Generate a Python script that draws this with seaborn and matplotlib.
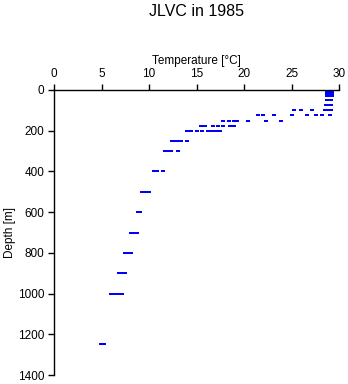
import numpy as np
import pandas as pd
import matplotlib
matplotlib.use("Agg")
import matplotlib.pyplot as plt
import seaborn as sns

depths = (
    [0] * 4 + [10] * 4 + [20] * 4 + [30] * 4
    + [50] * 4 + [75] * 4
    + [100] * 6
    + [125] * 8
    + [150] * 7
    + [175] * 7
    + [200] * 8
    + [250] * 5
    + [300] * 4
    + [400] * 3
    + [500] * 3
    + [600] * 2
    + [700] * 3
    + [800] * 3
    + [900] * 3
    + [1000] * 4
    + [1250] * 2
)
temps = (
    [28.7, 28.9, 29.1, 29.3] * 4
    + [28.7, 28.9, 29.1, 29.2]
    + [28.6, 28.8, 29.0, 29.2]
    + [25.3, 26.0, 27.2, 28.5, 28.9, 29.2]
    + [21.5, 22.0, 23.2, 25.0, 26.6, 27.6, 28.2, 29.0]
    + [17.8, 18.4, 18.9, 19.3, 20.4, 22.3, 23.9]
    + [15.5, 15.9, 16.7, 17.3, 17.8, 18.5, 18.9]
    + [14.0, 14.4, 15.0, 15.6, 16.2, 16.6, 17.1, 17.5]
    + [12.4, 12.7, 13.1, 13.4, 14.0]
    + [11.7, 12.0, 12.3, 13.1]
    + [10.5, 10.8, 11.5]
    + [9.3, 9.7, 10.0]
    + [8.8, 9.1]
    + [8.1, 8.4, 8.7]
    + [7.5, 7.8, 8.1]
    + [6.8, 7.1, 7.5]
    + [6.0, 6.4, 6.8, 7.2]
    + [4.9, 5.3]
)
x_ticks = [0, 5, 10, 15, 20, 25, 30]
y_ticks = [0, 200, 400, 600, 800, 1000, 1200, 1400]
title = "JLVC in 1985"
x_label = "Temperature [°C]"
y_label = "Depth [m]"

df = pd.DataFrame({"Temperature": temps, "Depth": depths})

sns.set_style("ticks")
plt.rcParams["font.family"] = ["Liberation Sans", "DejaVu Sans"]

fig = plt.figure(figsize=(3.48, 3.84), dpi=100)
ax = fig.add_axes([54 / 348, 1 - 375 / 384, 285 / 348, 285 / 384])

dash = [(-1.5, -0.8), (1.5, -0.8), (1.5, 0.8), (-1.5, 0.8), (-1.5, -0.8)]
sns.scatterplot(data=df, x="Temperature", y="Depth", ax=ax, color="#0000ff",
                marker=dash, s=8, linewidth=0, legend=False)

ax.set_xlim(0, 30)
ax.set_ylim(1400, 0)
ax.set_xticks(x_ticks)
ax.set_yticks(y_ticks)
ax.xaxis.tick_top()
ax.xaxis.set_label_position("top")
ax.set_xlabel(x_label, fontsize=8.5, labelpad=3, color="black")
ax.set_ylabel(y_label, fontsize=8.5, labelpad=1, color="black")
ax.tick_params(axis="both", labelsize=8.5, length=4.5, width=1, colors="black",
               direction="out", pad=2.5)
for side in ["right", "bottom"]:
    ax.spines[side].set_visible(False)
for side in ["top", "left"]:
    ax.spines[side].set_linewidth(1)
    ax.spines[side].set_color("black")

fig.text((54 + 339) / 2 / 348, 1 - 11.5 / 384, title, ha="center", va="center",
         fontsize=11.5, color="black")

fig.savefig("out.png", dpi=100)
